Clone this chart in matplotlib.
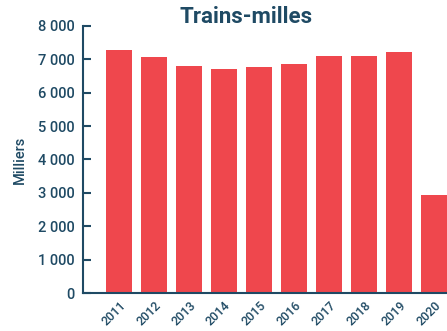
import matplotlib
matplotlib.use('Agg')
from matplotlib import pyplot as plt

years = ['2011', '2012', '2013', '2014', '2015', '2016', '2017', '2018', '2019', '2020']
train_miles = [7280, 7070, 6800, 6710, 6770, 6860, 7100, 7100, 7220, 2940]

bar_color = '#ef474d'
text_color = '#1f4a64'

plt.rcParams['font.family'] = ['Roboto', 'DejaVu Sans']

fig = plt.figure(figsize=(4.47, 3.31), dpi=100)
ax = fig.add_axes([0.1857, 0.1148, 0.8143, 0.8067])

ax.bar(range(len(years)), train_miles, width=0.74, color=bar_color, zorder=2)

ax.set_xlim(-1.03, 9.37)
ax.set_ylim(0, 8000)
ax.set_yticks(range(0, 8001, 1000))
ax.set_yticklabels([f'{v:,}'.replace(',', ' ') for v in range(0, 8001, 1000)])
ax.set_xticks(range(len(years)))
ax.set_xticklabels(years, rotation=45, ha='right', rotation_mode='anchor')

for side in ['top', 'right']:
    ax.spines[side].set_visible(False)
for side in ['left', 'bottom']:
    ax.spines[side].set_color(text_color)
    ax.spines[side].set_linewidth(1.5)
ax.spines['bottom'].set_zorder(3)

ax.tick_params(axis='y', direction='in', length=6, width=1.5, color=text_color,
               labelcolor=text_color, labelsize=10.5, pad=6)
ax.tick_params(axis='x', length=0, labelcolor=text_color, labelsize=9, pad=4)
for lbl in ax.get_yticklabels() + ax.get_xticklabels():
    lbl.set_fontweight('medium')

ax.set_ylabel('Milliers', color=text_color, fontsize=10.5, fontweight='medium', labelpad=8)
fig.text(0.55, 0.93, 'Trains-milles', ha='center', va='baseline', color=text_color,
         fontsize=16, fontweight='bold')

fig.savefig('out.png', dpi=100)
